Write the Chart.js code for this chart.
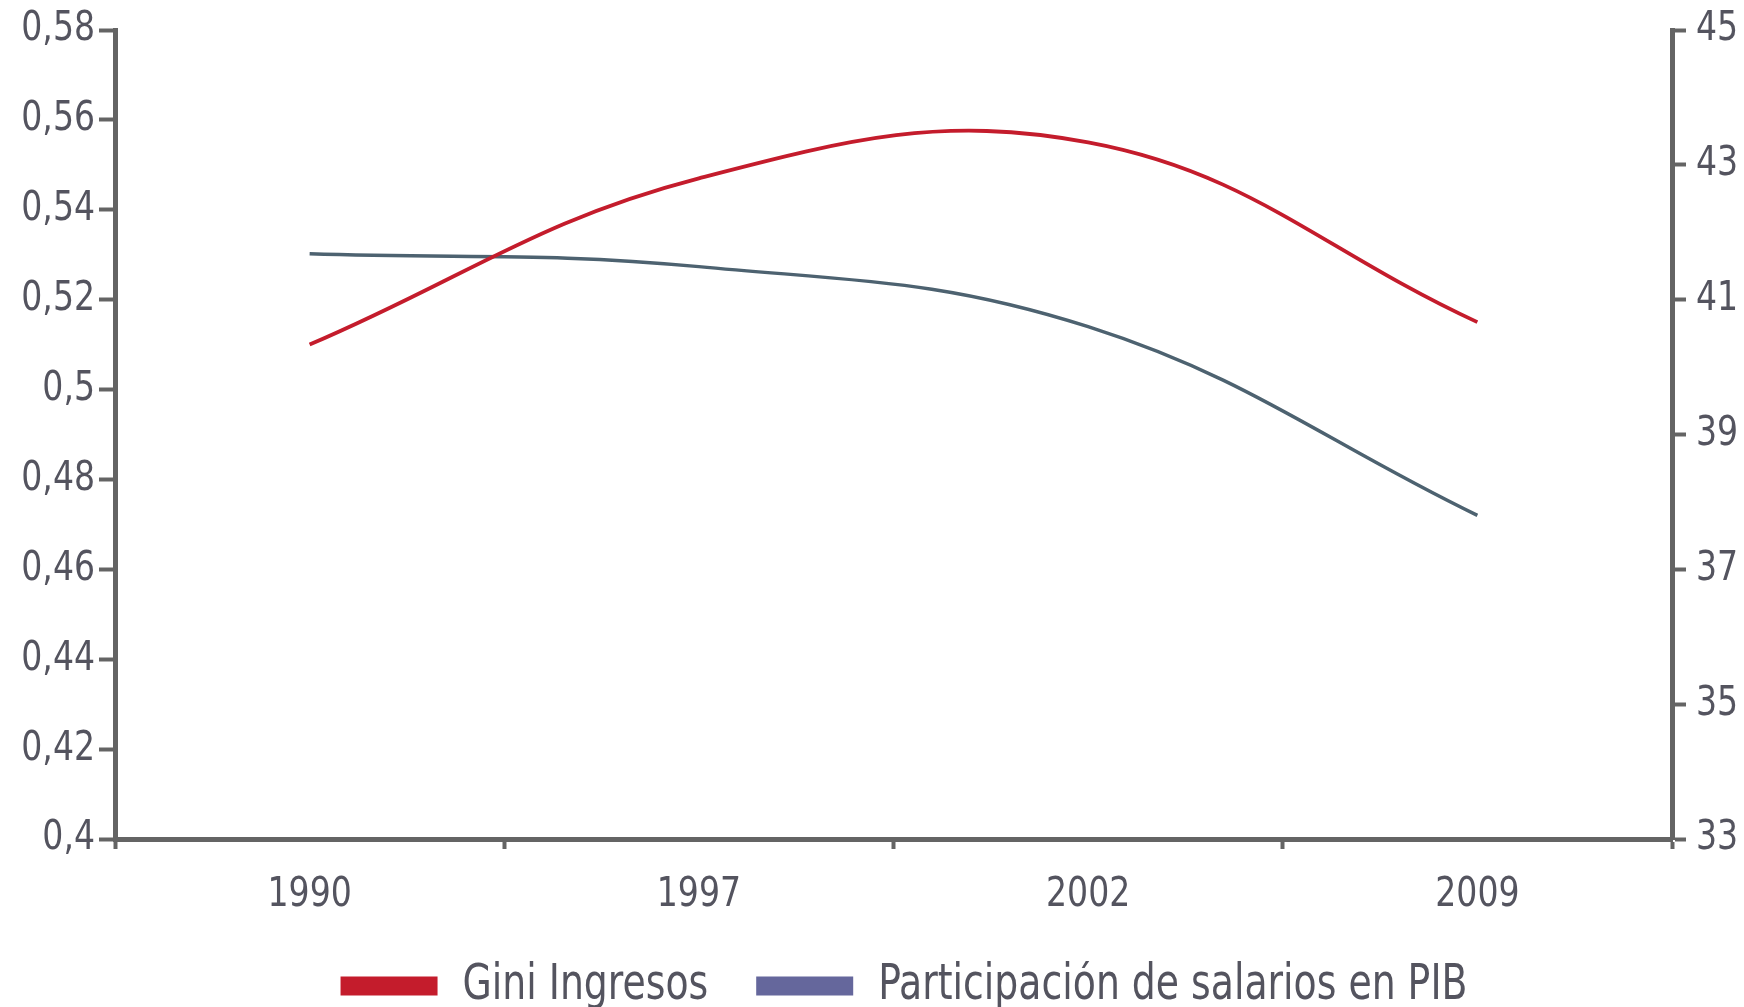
<!DOCTYPE html>
<html>
<head>
<meta charset="utf-8">
<script src="https://cdn.jsdelivr.net/npm/chart.js@4.4.0/dist/chart.umd.min.js"></script>
<style>
html,body{margin:0;padding:0;background:#fff;}
#wrap{width:1744px;height:1007px;}
</style>
</head>
<body>
<div id="wrap"><canvas id="c" width="1744" height="1007"></canvas></div>
<script>
const years = ['1990', '1997', '2002', '2009'];
const giniIngresos = [0.510, 0.547, 0.555, 0.515];
const participacionSalarios = [41.68, 41.49, 40.6, 37.8];
const leftTicks = [0.4, 0.42, 0.44, 0.46, 0.48, 0.5, 0.52, 0.54, 0.56, 0.58];
const rightTicks = [33, 35, 37, 39, 41, 43, 45];
const seriesNames = ['Gini Ingresos', 'Participación de salarios en PIB'];

const FONT = '"DejaVu Sans Condensed", "DejaVu Sans", sans-serif';
const AXIS = '#646464';
const TXT = '#54545f';
const RED = '#c41c2c';
const GREY = '#4d6270';
const PURPLE = '#65679c';

const canvas = document.getElementById('c');
const ctx = canvas.getContext('2d');
// condensed look: narrow glyphs horizontally (legend more than ticks)
const squeeze = () => (/\b50px\b/.test(ctx.font) ? 0.84 : 0.92);
const origFill = ctx.fillText.bind(ctx);
const origMeasure = ctx.measureText.bind(ctx);
ctx.fillText = function (text, x, y) {
  const sx = squeeze();
  ctx.save();
  ctx.translate(x, y);
  ctx.scale(sx, 1);
  origFill(text, 0, 0);
  ctx.restore();
};
ctx.measureText = function (text) {
  const m = origMeasure(text);
  const sx = squeeze();
  return {
    width: m.width * sx,
    actualBoundingBoxAscent: m.actualBoundingBoxAscent,
    actualBoundingBoxDescent: m.actualBoundingBoxDescent,
    actualBoundingBoxLeft: m.actualBoundingBoxLeft * sx,
    actualBoundingBoxRight: m.actualBoundingBoxRight * sx
  };
};

const commaFmt = v => String(Math.round(v * 100) / 100).replace('.', ',');

const legendShift = {
  id: 'legendShift',
  afterLayout(chart) {
    chart.legend.left += 32;
    chart.legend.right += 32;
  }
};

const noVPad = s => { s.paddingTop = 0; s.paddingBottom = 0; };

new Chart(ctx, {
  type: 'line',
  data: {
    labels: years,
    datasets: [
      { label: seriesNames[0], data: giniIngresos, yAxisID: 'y', borderColor: RED, backgroundColor: RED,
        borderWidth: 3.8, pointRadius: 0, tension: 0.4, fill: false },
      { label: seriesNames[1], data: participacionSalarios, yAxisID: 'y1', borderColor: GREY, backgroundColor: PURPLE,
        borderWidth: 3.5, pointRadius: 0, tension: 0.4, fill: false }
    ]
  },
  plugins: [legendShift],
  options: {
    responsive: false,
    animation: false,
    events: [],
    layout: { padding: { top: 30, left: 0, right: 0, bottom: -14 } },
    plugins: {
      tooltip: { enabled: false },
      legend: {
        position: 'bottom',
        labels: {
          boxWidth: 97,
          boxHeight: 19,
          padding: 0,
          color: TXT,
          font: { family: FONT, size: 50 },
          generateLabels: (chart) => chart.data.datasets.map((ds, i) => ({
            text: i === 0 ? ds.label + '    ' : ds.label,
            fillStyle: i === 0 ? RED : PURPLE,
            strokeStyle: i === 0 ? RED : PURPLE,
            lineWidth: 0,
            fontColor: TXT,
            hidden: false,
            datasetIndex: i
          }))
        }
      }
    },
    scales: {
      x: {
        offset: true,
        grid: { offset: true, drawOnChartArea: false, drawTicks: true, tickLength: 10, tickWidth: 4, tickColor: AXIS },
        border: { display: true, color: AXIS, width: 5 },
        ticks: { color: TXT, font: { family: FONT, size: 40 }, padding: 23, maxRotation: 0 },
        afterFit: s => { s.height = 122; }
      },
      y: {
        position: 'left',
        min: 0.4, max: 0.58,
        afterBuildTicks: s => { s.ticks = leftTicks.map(v => ({ value: v })); },
        grid: { drawOnChartArea: false, drawTicks: true, tickLength: 16, tickWidth: 4, tickColor: AXIS },
        border: { display: true, color: AXIS, width: 5 },
        ticks: { color: TXT, font: { family: FONT, size: 40 }, padding: 4, callback: v => commaFmt(v) },
        afterFit: s => { s.width = 115; noVPad(s); }
      },
      y1: {
        position: 'right',
        min: 33, max: 45,
        afterBuildTicks: s => { s.ticks = rightTicks.map(v => ({ value: v })); },
        grid: { drawOnChartArea: false, drawTicks: true, tickLength: 14, tickWidth: 4, tickColor: AXIS },
        border: { display: true, color: AXIS, width: 5 },
        ticks: { color: TXT, font: { family: FONT, size: 40 }, padding: 10, callback: v => String(v) },
        afterFit: s => { s.width = 72; noVPad(s); }
      }
    }
  }
});
</script>
</body>
</html>
